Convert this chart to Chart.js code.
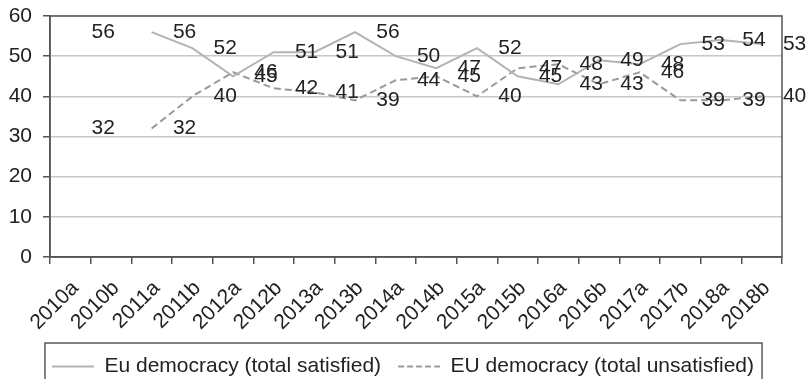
<!DOCTYPE html>
<html lang="en">
  <head>
    <meta charset="UTF-8" />
    <title>EU democracy satisfaction</title>
    <script src="https://cdn.jsdelivr.net/npm/chart.js@4"></script>
    <style>
      body {
        margin: 0;
        background: #ffffff;
      }
      .chart-box {
        width: 806px;
        height: 379px;
      }
    </style>
  </head>
  <body>
    <div class="chart-box"><canvas id="grafico"></canvas></div>

    <script>
      // survey waves
      const waves = [
        "2010a", "2010b", "2011a", "2011b", "2012a", "2012b", "2013a", "2013b", "2014a",
        "2014b", "2015a", "2015b", "2016a", "2016b", "2017a", "2017b", "2018a", "2018b",
      ];
      // percentages (2010b has no value)
      const satisfied = [56, null, 56, 52, 45, 51, 51, 56, 50, 47, 52, 45, 43, 49, 48, 53, 54, 53];
      const unsatisfied = [32, null, 32, 40, 46, 42, 41, 39, 44, 45, 40, 47, 48, 43, 46, 39, 39, 40];
      const yMin = 0;
      const yMax = 60;
      const yStep = 10;

      Chart.defaults.font.family = "'Liberation Sans', Arial, sans-serif";
      Chart.defaults.color = "#222";

      // frame round the plot area
      const frame = {
        id: "frame",
        beforeDatasetsDraw(chart) {
          const { ctx, chartArea: a } = chart;
          ctx.save();
          ctx.strokeStyle = "#555";
          ctx.lineWidth = 1.5;
          ctx.strokeRect(a.left, a.top, a.right - a.left, a.bottom - a.top);
          ctx.restore();
        },
      };

      // value labels, drawn a little to the right of each point
      const valueLabels = {
        id: "valueLabels",
        afterDatasetsDraw(chart) {
          const { ctx } = chart;
          const xs = chart.scales.x;
          const shift = ((xs.right - xs.left) / waves.length) * 0.81;
          ctx.save();
          ctx.font = "21px 'Liberation Sans', Arial, sans-serif";
          ctx.fillStyle = "#222";
          ctx.textAlign = "center";
          ctx.textBaseline = "middle";
          chart.data.datasets.forEach((ds, i) => {
            const meta = chart.getDatasetMeta(i);
            ds.data.forEach((v, j) => {
              if (v === null) return;
              const p = meta.data[j];
              ctx.fillText(String(v), p.x + shift, p.y);
            });
          });
          ctx.restore();
        },
      };

      // box round the legend (runs off the bottom like in the source)
      const legendBox = {
        id: "legendBox",
        afterDraw(chart) {
          const lg = chart.legend;
          if (!lg || !lg.legendHitBoxes.length) return;
          const boxes = lg.legendHitBoxes;
          const left = Math.min(...boxes.map((b) => b.left)) - 7;
          const right = Math.max(...boxes.map((b) => b.left + b.width)) + 8;
          const top = 343;
          const { ctx } = chart;
          ctx.save();
          ctx.strokeStyle = "#333";
          ctx.lineWidth = 1.2;
          ctx.strokeRect(left, top, right - left, 60);
          ctx.restore();
        },
      };

      new Chart(document.getElementById("grafico"), {
        type: "line",
        data: {
          labels: waves,
          datasets: [
            {
              label: "Eu democracy (total satisfied)",
              data: satisfied,
              borderColor: "#b3b3b3",
              backgroundColor: "#b3b3b3",
              borderWidth: 2,
              pointRadius: 0,
              tension: 0,
            },
            {
              label: "EU democracy (total unsatisfied)",
              data: unsatisfied,
              borderColor: "#9a9a9a",
              backgroundColor: "#9a9a9a",
              borderWidth: 2,
              borderDash: [7, 4],
              pointRadius: 0,
              tension: 0,
            },
          ],
        },
        options: {
          responsive: true,
          maintainAspectRatio: false,
          animation: false,
          spanGaps: false,
          layout: {
            padding: { top: 16, right: 0, left: 0, bottom: -8 },
          },
          plugins: {
            tooltip: { enabled: false },
            legend: {
              position: "bottom",
              labels: {
                usePointStyle: true,
                pointStyle: "line",
                pointStyleWidth: 42,
                padding: 17,
                color: "#222",
                font: { size: 21 },
                generateLabels(chart) {
                  const items = Chart.defaults.plugins.legend.labels.generateLabels(chart);
                  items.forEach((it) => {
                    const ds = chart.data.datasets[it.datasetIndex];
                    it.strokeStyle = ds.borderColor;
                    it.lineWidth = ds.borderWidth;
                    it.lineDash = ds.borderDash ? [6, 3] : [];
                    it.pointStyle = "line";
                  });
                  return items;
                },
              },
            },
          },
          scales: {
            x: {
              offset: true,
              afterFit: (s) => {
                s.height = 82;
              },
              grid: {
                offset: true,
                drawOnChartArea: false,
                drawTicks: true,
                tickLength: 7,
                color: "#555",
                lineWidth: 1.5,
              },
              border: { color: "#555", width: 1.5 },
              ticks: {
                maxRotation: 45,
                minRotation: 45,
                padding: 12,
                labelOffset: 5,
                color: "#222",
                font: { size: 21 },
              },
            },
            y: {
              min: yMin,
              max: yMax,
              afterFit: (s) => {
                s.width = 50;
                s.paddingTop = 0;
                s.paddingBottom = 0;
              },
              grid: {
                color: "#c8c8c8",
                lineWidth: 1.5,
                tickColor: "#555",
                tickLength: 7,
              },
              border: { color: "#555", width: 1.5 },
              ticks: {
                stepSize: yStep,
                padding: 11,
                color: "#222",
                font: { size: 21 },
              },
            },
            // empty right-hand strip so the plot ends at the same place
            yRight: {
              position: "right",
              afterFit: (s) => {
                s.width = 24;
                s.paddingTop = 0;
                s.paddingBottom = 0;
              },
              grid: { display: false },
              border: { display: false },
              ticks: { display: false },
            },
          },
        },
        plugins: [frame, valueLabels, legendBox],
      });
    </script>
  </body>
</html>
